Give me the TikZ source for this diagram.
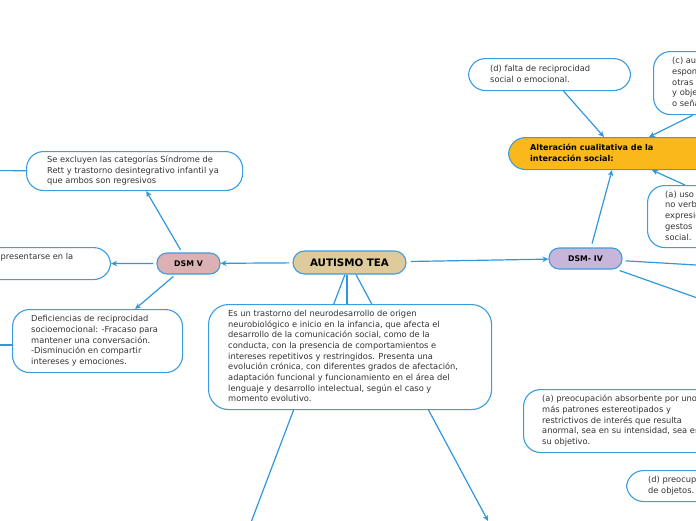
\documentclass[tikz,border=0pt]{standalone}
\usepackage{fontspec}
\setmainfont{DejaVu Sans}
\usetikzlibrary{arrows.meta,calc}
\definecolor{bc}{HTML}{3A9DE0}
\definecolor{lc}{HTML}{2E97DE}
\definecolor{tc}{HTML}{333333}
\definecolor{teac}{HTML}{DECA9B}
\definecolor{dvc}{HTML}{DCB1B3}
\definecolor{divc}{HTML}{C8B5DB}
\definecolor{altc}{HTML}{FBB81A}
\pgfdeclarelayer{bg}
\pgfsetlayers{bg,main}
\newcommand{\tb}[1]{\begin{tabular}{@{}l@{}}#1\end{tabular}}
\tikzset{
  box/.style={draw=bc, fill=white, line width=1.1pt, rounded corners=17pt, anchor=north west, inner sep=0pt},
  pill/.style={draw=bc, line width=1.1pt, rounded corners=10pt, inner sep=0pt, text=black,
     font=\fontsize{7.8}{9}\selectfont\bfseries},
  txt/.style={anchor=west, inner sep=0pt, text=tc, font=\fontsize{8.3}{10.7}\selectfont},
  btxt/.style={anchor=west, inner sep=0pt, text=black, font=\fontsize{8.1}{10.9}\selectfont\bfseries},
  con/.style={draw=lc, line width=1.2pt},
  arr/.style={con, -{Stealth[length=6pt,width=5.5pt]}},
}
\begin{document}
\begin{tikzpicture}[x=1pt,y=-1pt]
\useasboundingbox (0,0) rectangle (696,520);
\clip (0,0) rectangle (696,520);

% central and category nodes
\node[pill, fill=teac, minimum width=113pt, minimum height=23pt, rounded corners=11.5pt,
  font=\fontsize{10.3}{12}\selectfont\bfseries] (tea) at (349.5,262.5) {AUTISMO TEA};
\node[pill, fill=dvc, minimum width=63pt, minimum height=21pt] (dsm5) at (188.5,263.5) {DSM V};
\node[pill, fill=divc, minimum width=73pt, minimum height=21pt] (dsm4) at (585.5,258.5) {DSM- IV};

% boxes
\node[box, fill=altc, minimum width=260pt, minimum height=32pt] (alt) at (508,137) {};
\node[btxt] (alt-t) at ([xshift=22pt]alt.west) {\tb{Alteración cualitativa de la\\interacción social:}};

\node[box, minimum width=162pt, minimum height=32pt] (dfalta) at (468,58) {};
\node[txt] (dfalta-t) at ([xshift=22pt]dfalta.west) {\tb{(d) falta de reciprocidad\\social o emocional.}};

\node[box, minimum width=220pt, minimum height=63pt] (cbox) at (653,51) {};
\node[txt] (cbox-t) at ([xshift=19pt]cbox.west) {\tb{(c) ausencia\\espontánea\\otras\\y objetivos\\o señalar}};

\node[box, minimum width=220pt, minimum height=62pt] (auso) at (647,185) {};
\node[txt] (auso-t) at ([xshift=18pt]auso.west) {\tb{(a) uso\\no verbales\\expresión\\gestos\\social.}};

\node[box, minimum width=216pt, minimum height=39pt] (excl) at (26,151) {};
\node[txt] (excl-t) at ([xshift=21pt]excl.west) {\tb{Se excluyen las categorías Síndrome de\\Rett y trastorno desintegrativo infantil ya\\que ambos son regresivos}};

\node[box, minimum width=260pt, minimum height=32pt] (pres) at (-150,247) {};
\node[txt, anchor=north west] (pres-t) at (0.5,252.5) {presentarse en la};

\node[box, minimum width=170pt, minimum height=63pt] (defic) at (12,309) {};
\node[txt] (defic-t) at ([xshift=19pt]defic.west) {\tb{Deficiencias de reciprocidad\\socioemocional: -Fracaso para\\mantener una conversación.\\-Disminución en compartir\\intereses y emociones.}};

\node[box, minimum width=283pt, minimum height=105pt, rounded corners=20pt] (desc) at (208,304) {};
\node[txt] (desc-t) at ([xshift=20pt]desc.west) {\tb{Es un trastorno del neurodesarrollo de origen\\
neurobiológico e inicio en la infancia, que afecta el\\
desarrollo de la comunicación social, como de la\\
conducta, con la presencia de comportamientos e\\
intereses repetitivos y restringidos. Presenta una\\
evolución crónica, con diferentes grados de afectación,\\
adaptación funcional y funcionamiento en el área del\\
lenguaje y desarrollo intelectual, según el caso y\\
momento evolutivo.}};

\node[box, minimum width=250pt, minimum height=63pt] (preoc) at (523,389) {};
\node[txt] (preoc-t) at ([xshift=19pt]preoc.west) {\tb{(a) preocupación absorbente por uno o\\más patrones estereotipados y\\restrictivos de interés que resulta\\anormal, sea en su intensidad, sea en\\su objetivo.}};

\node[box, minimum width=200pt, minimum height=31pt] (dpreoc) at (626,470) {};
\node[txt] (dpreoc-t) at ([xshift=22pt]dpreoc.west) {\tb{(d) preocupación\\de objetos.}};

% free ends
\coordinate (bl) at (250,525);
\coordinate (br) at (488,521);
\coordinate (l1) at (-30,170.5);
\coordinate (l2) at (-30,345);
\coordinate (r1) at (720,266.4);
\coordinate (r2) at (720,306);

\begin{pgfonlayer}{bg}
\draw[arr, shorten <=3pt] (tea) -- (dsm5);
\draw[arr, shorten <=4pt] (tea) -- (dsm4);
\draw[con] (tea) -- (bl);
\draw[arr] (tea) -- (br);
\draw[con] ([xshift=-2.5pt]tea.south) -- ([xshift=-2.5pt]tea.south |- desc.north);

\draw[arr, shorten <=3pt] (dsm5) -- (excl);
\draw[arr, shorten <=3pt] (dsm5) -- (pres);
\draw[arr, shorten <=3pt] (dsm5) -- (defic);
\draw[con] (l1) -- (excl);
\draw[con] (l2) -- (l2 -| defic.west);

\draw[arr, shorten <=4pt] ([xshift=5.5pt]dsm4.north) -- ([xshift=104pt]alt.south west);
\draw[con, shorten <=3pt] (dsm4) -- (r1);
\draw[con, shorten <=3pt] (dsm4) -- (r2);

\draw[arr] ([xshift=14pt]dfalta.south) -- ([xshift=96pt]alt.north west);
\draw[arr] ([xshift=40pt]cbox.south west) -- ([xshift=141pt]alt.north west);
\draw[arr] ([xshift=38pt]auso.north west) -- ([xshift=144pt]alt.south west);
\end{pgfonlayer}
\end{tikzpicture}
\end{document}
